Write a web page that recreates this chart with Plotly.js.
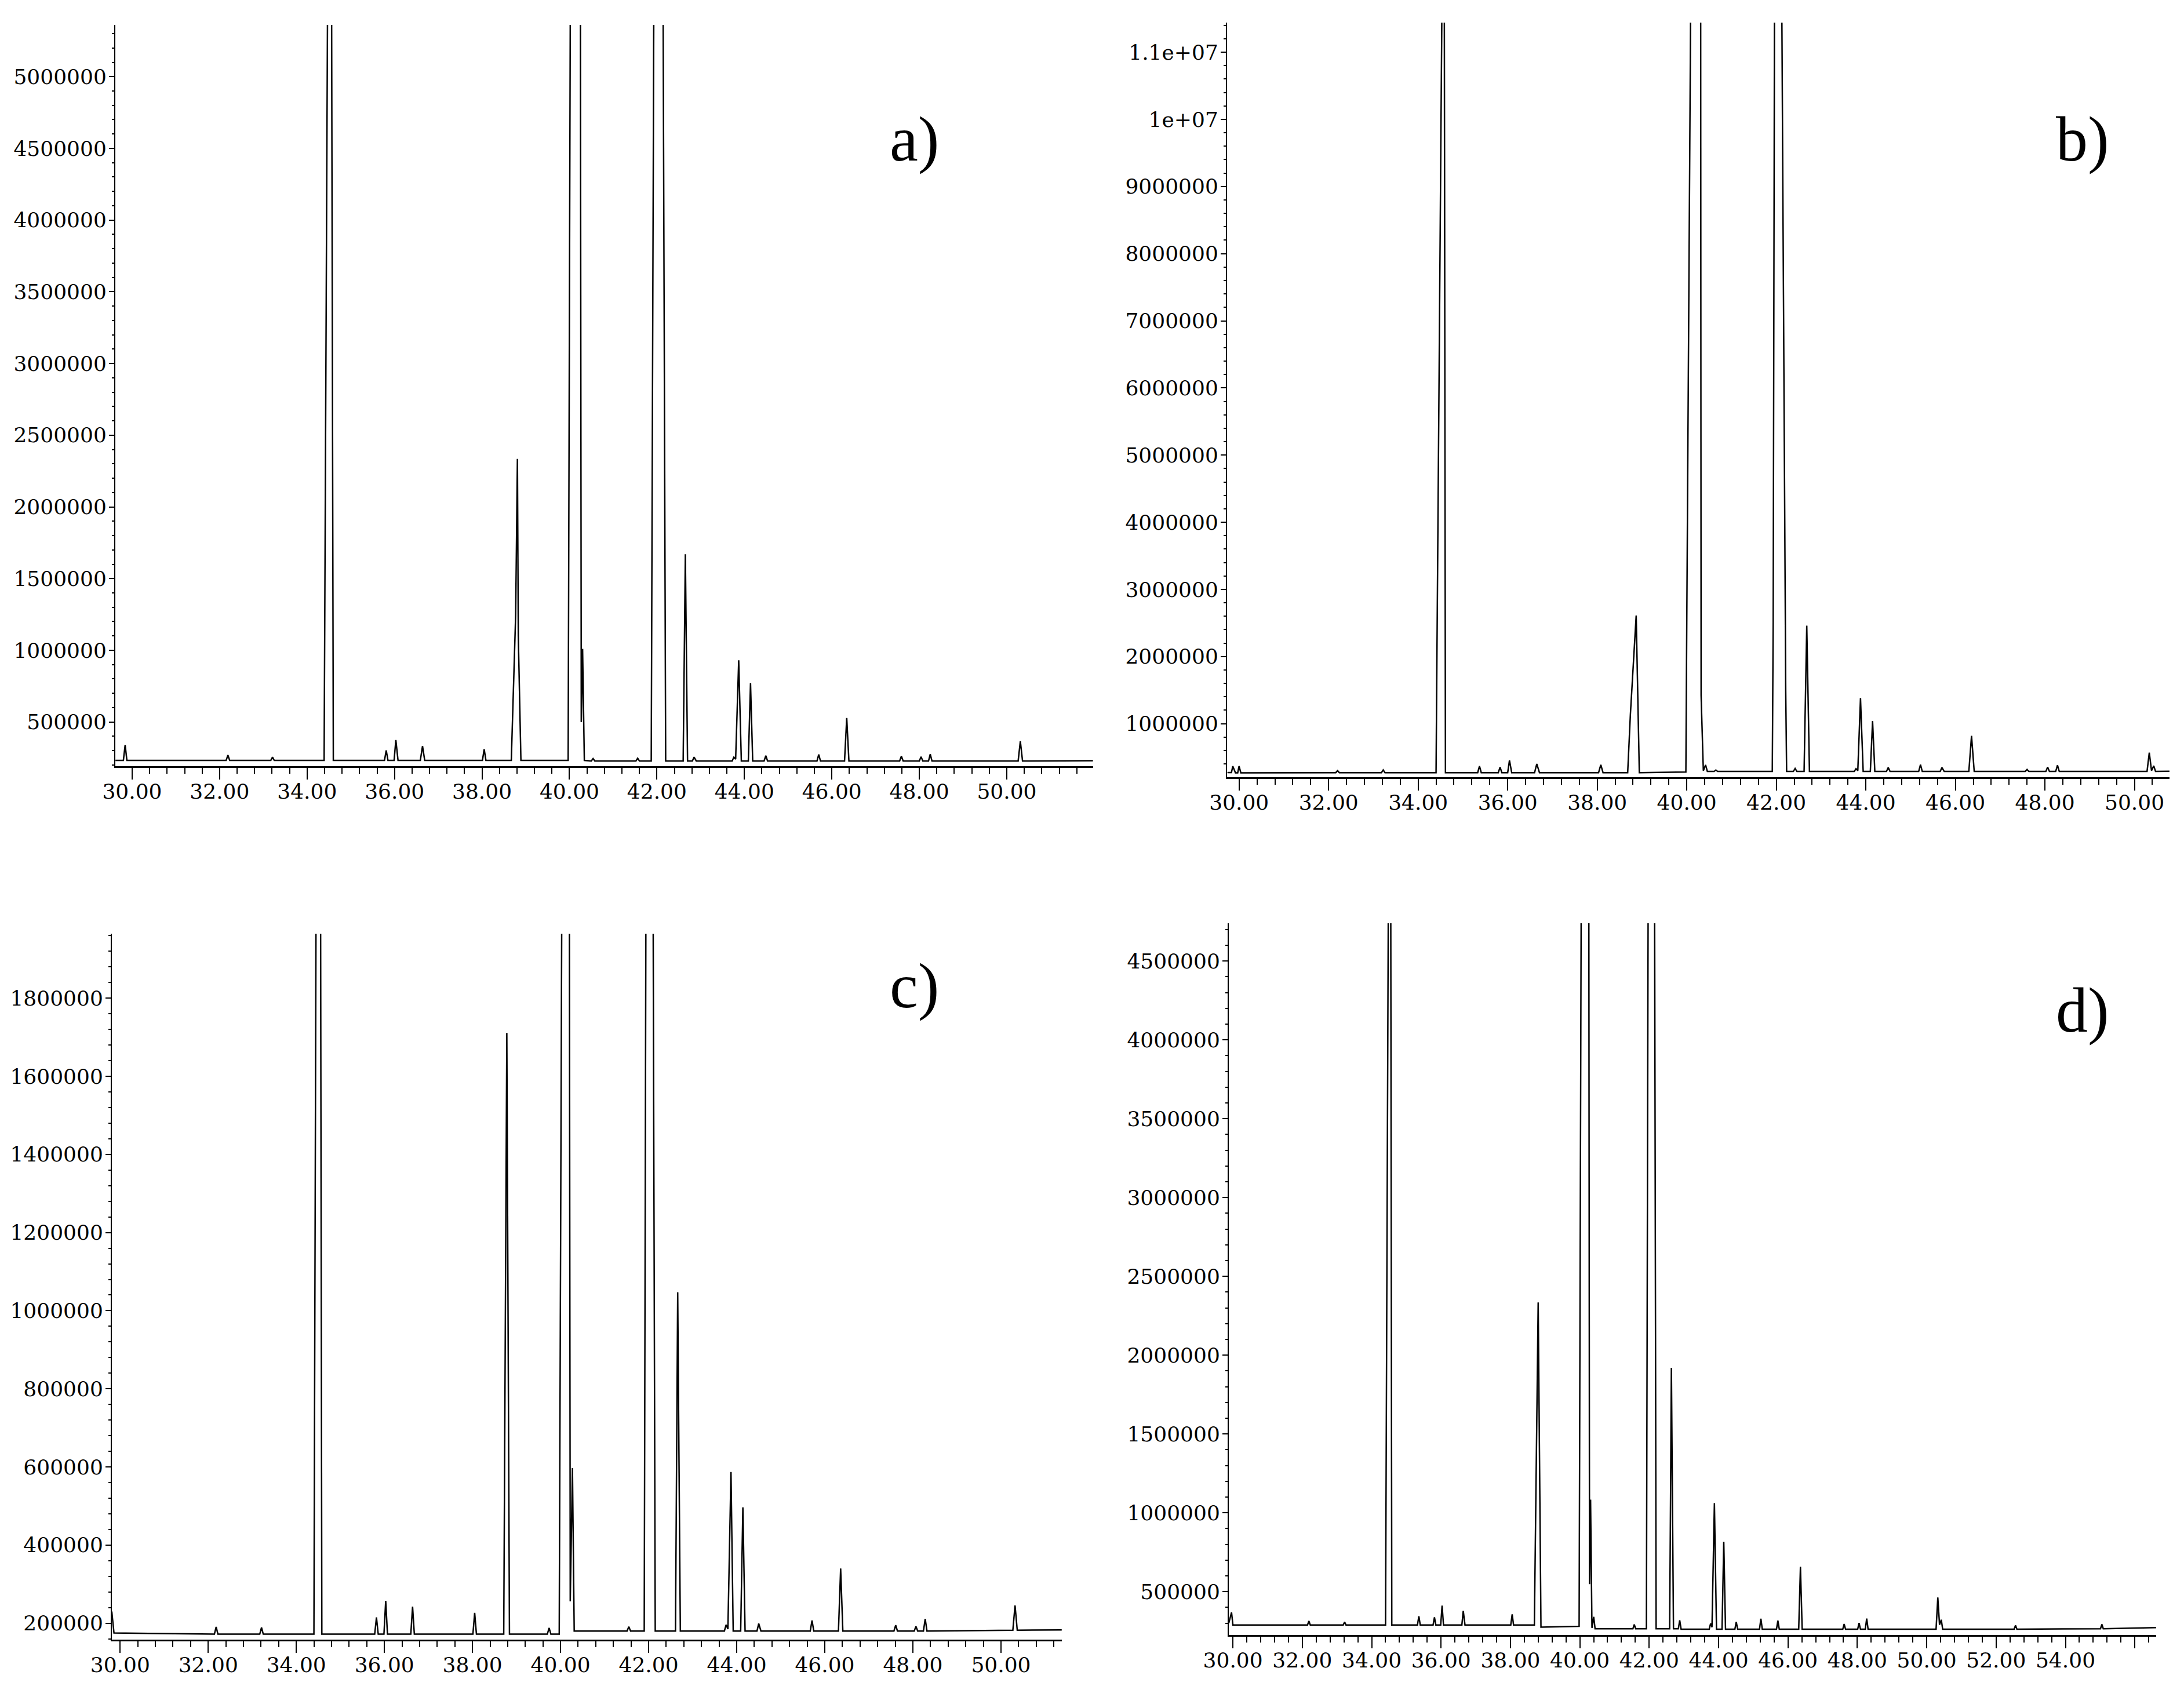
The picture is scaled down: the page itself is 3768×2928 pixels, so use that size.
<!DOCTYPE html>
<html><head><meta charset="utf-8">
<script src="https://cdn.plot.ly/plotly-3.0.1.min.js"></script>
<style>html,body{margin:0;padding:0;background:#fff}</style>
</head><body><div id="chart" style="width:3768px;height:2928px"></div>
<script>
// ---------- panel a) : retention time (min) / abundance ----------
const aTime = [29.62,29.80,29.84,29.88,32.15,32.19,32.23,33.17,33.21,33.25,
  34.39,34.47,34.51,34.56,34.60,35.77,35.81,35.85,35.99,36.03,36.08,36.59,36.64,36.69,
  38.01,38.05,38.09,38.67,38.77,38.81,38.83,38.89,
  39.97,40.02,40.13,40.25,40.27,40.30,40.34,40.50,40.54,40.58,41.52,41.56,41.60,
  41.87,41.93,42.04,42.14,42.20,42.60,42.65,42.70,42.81,42.85,42.90,
  43.72,43.76,43.80,43.87,43.93,44.09,44.14,44.19,44.45,44.49,44.53,45.66,45.70,45.74,
  46.29,46.34,46.39,47.55,47.59,47.63,48.00,48.04,48.08,48.21,48.25,48.29,
  50.26,50.31,50.36,51.97];
const aSignal = [232000,232000,340000,232000,232000,269000,232000,232000,255000,232000,
  232000,5600000,20000000,5600000,232000,232000,302000,232000,232000,374000,232000,232000,332000,232000,
  232000,310000,232000,232000,1250000,2335000,1100000,232000,
  232000,5600000,20000000,5600000,500000,1010000,232000,228000,245000,228000,228000,247000,228000,
  228000,5600000,20000000,5600000,228000,228000,1670000,228000,228000,255000,228000,
  228000,255000,240000,930000,228000,228000,770000,228000,228000,265000,228000,228000,273000,228000,
  228000,528000,228000,228000,262000,228000,228000,257000,228000,228000,275000,228000,
  228000,366000,228000,230000];

// ---------- panel b) ----------
const bTime = [29.74,29.83,29.86,29.92,29.97,30.00,30.04,32.16,32.20,32.24,33.18,33.22,33.26,
  34.40,34.53,34.56,34.585,34.61,35.33,35.37,35.41,35.79,35.83,35.87,36.00,36.04,36.09,36.60,36.65,36.71,
  38.03,38.08,38.13,38.68,38.74,38.87,38.94,
  39.98,40.00,40.09,40.20,40.31,40.32,40.37,40.42,40.46,40.61,40.65,40.69,
  41.91,41.93,41.96,42.05,42.12,42.21,42.23,42.38,42.42,42.46,42.62,42.68,42.74,
  43.74,43.78,43.82,43.88,43.94,44.10,44.15,44.20,44.46,44.50,44.54,45.18,45.22,45.26,45.66,45.70,45.75,
  46.30,46.36,46.42,47.56,47.60,47.64,48.02,48.06,48.10,48.24,48.28,48.32,
  50.28,50.33,50.38,50.43,50.47,50.78];
const bSignal = [272000,272000,367000,268000,268000,367000,268000,270000,301000,270000,270000,310000,270000,
  270000,11600000,25000000,11600000,270000,270000,367000,270000,270000,353000,270000,270000,453000,270000,270000,401000,270000,
  270000,387000,270000,270000,1130000,2610000,270000,
  280000,2500000,12000000,25000000,12000000,1420000,300000,386000,288000,288000,310000,288000,
  288000,2500000,12000000,25000000,12000000,1500000,288000,288000,332000,288000,288000,2460000,288000,
  288000,330000,300000,1380000,288000,288000,1040000,288000,288000,347000,288000,288000,390000,288000,288000,347000,288000,
  288000,819000,288000,288000,318000,288000,288000,353000,288000,288000,381000,288000,
  288000,569000,300000,372000,288000,290000];

// ---------- panel c) ----------
const cTime = [29.81,29.86,32.14,32.18,32.22,33.17,33.21,33.25,
  34.40,34.45,34.50,34.55,34.58,35.78,35.82,35.86,35.99,36.03,36.07,36.60,36.64,36.68,
  38.01,38.05,38.09,38.71,38.78,38.84,39.70,39.74,39.78,
  39.97,40.03,40.12,40.20,40.22,40.27,40.31,41.51,41.55,41.59,
  41.90,41.94,42.02,42.10,42.15,42.61,42.66,42.72,
  43.72,43.76,43.80,43.87,43.92,44.09,44.14,44.19,44.46,44.50,44.55,45.67,45.71,45.75,
  46.31,46.36,46.41,47.57,47.61,47.65,48.03,48.07,48.11,48.24,48.28,48.32,
  50.27,50.32,50.37,51.38];
const cSignal = [230000,175000,172000,190600,172000,172000,189000,172000,
  172000,2100000,15000000,2100000,172000,172000,214800,172000,172000,257400,172000,172000,242600,172000,
  172000,226300,172000,172000,1711000,172000,172000,188000,172000,
  172000,2100000,15000000,2100000,256000,597000,180000,180000,191000,180000,
  180000,2100000,15000000,2100000,180000,180000,1047000,180000,
  180000,196000,185000,587000,180000,180000,496700,180000,180000,199000,180000,180000,207000,180000,
  180000,339900,180000,180000,195000,180000,180000,192000,180000,180000,211000,180000,
  182000,245500,182000,183000];

// ---------- panel d) ----------
const dTime = [29.88,29.96,30.00,32.15,32.19,32.23,33.18,33.22,33.26,
  34.40,34.48,34.51,34.55,34.58,35.32,35.36,35.40,35.77,35.81,35.85,35.99,36.03,36.07,36.60,36.64,36.69,
  38.01,38.05,38.09,38.69,38.80,38.88,
  39.98,40.04,40.15,40.26,40.28,40.31,40.35,40.40,40.44,41.53,41.57,41.61,
  41.92,41.97,42.06,42.16,42.20,42.59,42.64,42.70,42.84,42.88,42.92,
  43.73,43.77,43.81,43.88,43.94,44.10,44.15,44.20,44.47,44.51,44.55,45.18,45.22,45.26,45.67,45.71,45.75,
  46.31,46.36,46.41,47.58,47.62,47.66,48.01,48.05,48.09,48.23,48.27,48.31,
  50.27,50.32,50.37,50.42,50.46,52.52,52.56,52.60,55.01,55.05,55.09,56.62];
const dSignal = [300000,368700,289000,289000,313500,289000,289000,307600,289000,
  289000,4900000,15000000,4900000,289000,289000,344400,289000,289000,338000,289000,289000,411700,289000,289000,378600,289000,
  289000,356600,289000,289000,2335000,275000,
  280000,4900000,15000000,4900000,548000,1084000,270000,340700,265000,265000,291500,265000,
  265000,4900000,15000000,4900000,265000,265000,1920000,265000,265000,318700,262000,
  262000,297700,275000,1061600,262000,262000,816300,262000,262000,307600,262000,262000,328300,262000,262000,316100,262000,
  262000,658000,262000,262000,295100,262000,262000,301400,262000,262000,329700,262000,
  262000,463200,290000,322300,262000,262000,286700,262000,265000,292900,265000,272000];

// ---------- tick labels ----------
const xTickVals = [30,32,34,36,38,40,42,44,46,48,50];
const xTickText = ['30.00','32.00','34.00','36.00','38.00','40.00','42.00','44.00','46.00','48.00','50.00'];
const dXTickVals = [30,32,34,36,38,40,42,44,46,48,50,52,54,56];
const dXTickText = ['30.00','32.00','34.00','36.00','38.00','40.00','42.00','44.00','46.00','48.00','50.00','52.00','54.00',''];
const aYTickVals = [500000,1000000,1500000,2000000,2500000,3000000,3500000,4000000,4500000,5000000];
const aYTickText = ['500000','1000000','1500000','2000000','2500000','3000000','3500000','4000000','4500000','5000000'];
const bYTickVals = [1000000,2000000,3000000,4000000,5000000,6000000,7000000,8000000,9000000,10000000,11000000];
const bYTickText = ['1000000','2000000','3000000','4000000','5000000','6000000','7000000','8000000','9000000','1e+07','1.1e+07'];
const cYTickVals = [200000,400000,600000,800000,1000000,1200000,1400000,1600000,1800000];
const cYTickText = ['200000','400000','600000','800000','1000000','1200000','1400000','1600000','1800000'];
const dYTickVals = [500000,1000000,1500000,2000000,2500000,3000000,3500000,4000000,4500000];
const dYTickText = ['500000','1000000','1500000','2000000','2500000','3000000','3500000','4000000','4500000'];
const panelLabels = ['a)','b)','c)','d)'];

// ---------- layout helpers ----------
const W = 3768, H = 2928;
const fx = p => p / W;
const fy = p => 1 - p / H;
const tickFont = {family: 'DejaVu Serif', size: 36, color: '#000'};

function xAxis(domain, range, vals, text, anchor) {
  return {domain, range, anchor, tickmode: 'array', tickvals: vals, ticktext: text,
    showline: true, linecolor: '#000', linewidth: 3, ticks: 'outside', ticklen: 20, tickwidth: 2, tickcolor: '#000',
    ticklabelstandoff: -10,
    minor: {tickmode: 'linear', tick0: 30, dtick: 0.4, ticks: 'outside', ticklen: 10, tickwidth: 2, tickcolor: '#000'},
    showgrid: false, zeroline: false, tickfont: tickFont, fixedrange: true};
}
function yAxis(domain, range, vals, text, minorStep, anchor) {
  return {domain, range, anchor, tickmode: 'array', tickvals: vals, ticktext: text,
    showline: true, linecolor: '#000', linewidth: 2, ticks: 'outside', ticklen: 9, tickwidth: 2, tickcolor: '#000',
    ticklabelstandoff: -3,
    minor: {tickmode: 'linear', tick0: 0, dtick: minorStep, ticks: 'outside', ticklen: 4, tickwidth: 2, tickcolor: '#000'},
    showgrid: false, zeroline: false, tickfont: tickFont, fixedrange: true};
}
const line = {color: '#000', width: 2.5};
const traces = [
  {x: aTime, y: aSignal, xaxis: 'x', yaxis: 'y', mode: 'lines', line},
  {x: bTime, y: bSignal, xaxis: 'x2', yaxis: 'y2', mode: 'lines', line},
  {x: cTime, y: cSignal, xaxis: 'x3', yaxis: 'y3', mode: 'lines', line},
  {x: dTime, y: dSignal, xaxis: 'x4', yaxis: 'y4', mode: 'lines', line}
];
const labelPos = [[1577, 240], [3593, 240], [1577, 1701], [3593, 1743]];
const layout = {
  width: W, height: H, margin: {l: 0, r: 0, t: 0, b: 0},
  paper_bgcolor: '#fff', plot_bgcolor: '#fff', showlegend: false,
  xaxis:  xAxis([fx(199), fx(1886)], [29.616, 51.975], xTickVals, xTickText, 'y'),
  yaxis:  yAxis([fy(1322), fy(43)], [191600, 5360700], aYTickVals, aYTickText, 100000, 'x'),
  xaxis2: xAxis([fx(2117), fx(3743)], [29.732, 50.782], xTickVals, xTickText, 'y2'),
  yaxis2: yAxis([fy(1341), fy(39)], [202600, 11441000], bYTickVals, bYTickText, 200000, 'x2'),
  xaxis3: xAxis([fx(193), fx(1832)], [29.812, 51.383], xTickVals, xTickText, 'y3'),
  yaxis3: yAxis([fy(2829), fy(1611)], [158000, 1965000], cYTickVals, cYTickText, 40000, 'x3'),
  xaxis4: xAxis([fx(2120), fx(3720)], [29.881, 56.615], dXTickVals, dXTickText, 'y4'),
  yaxis4: yAxis([fy(2821), fy(1593)], [225300, 4740000], dYTickVals, dYTickText, 100000, 'x4'),
  annotations: panelLabels.map((t, i) => ({text: t, xref: 'paper', yref: 'paper',
    x: fx(labelPos[i][0]), y: fy(labelPos[i][1]), xanchor: 'center', yanchor: 'middle', showarrow: false,
    font: {family: 'Liberation Serif', size: 110, color: '#000'}}))
};
Plotly.newPlot('chart', traces, layout, {staticPlot: true, displayModeBar: false});
</script></body></html>
